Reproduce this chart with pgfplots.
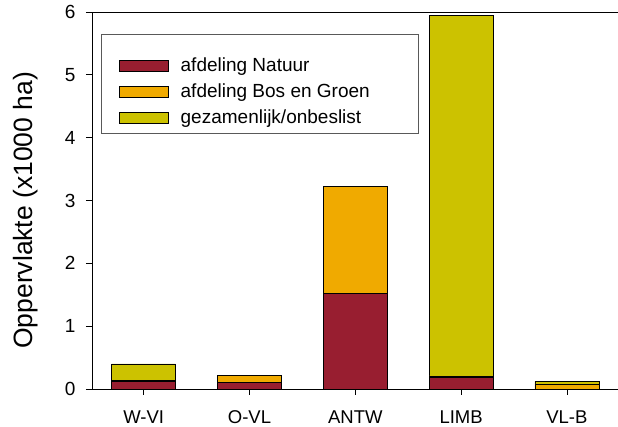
\documentclass[border=0pt]{standalone}
\usepackage{pgfplots}
\pgfplotsset{compat=1.18}
\usepackage{fontspec}
\setmainfont{Liberation Sans}
\definecolor{cNat}{RGB}{152,30,48}
\definecolor{cBos}{RGB}{240,170,0}
\definecolor{cGez}{RGB}{204,194,0}
\begin{document}
\begin{tikzpicture}
\useasboundingbox (-92pt,-38pt) rectangle (526pt,389pt);
\begin{axis}[
  at={(0,0)}, anchor=south west,
  scale only axis, width=526pt, height=377pt,
  ybar stacked, bar width=64pt,
  xmin=-0.489, xmax=4.483, ymin=0, ymax=6,
  xtick={0,1,2,3,4},
  xticklabels={W-VI,O-VL,ANTW,LIMB,VL-B},
  ytick={0,1,2,3,4,5,6},
  axis x line=box, axis y line=left,
  axis line style={-, black, line width=0.8pt},
  xtick pos=bottom, ytick pos=left,
  tick align=outside, major tick length=6pt,
  tick style={black, line width=0.8pt},
  /pgf/number format/assume math mode=true,
  xticklabel style={font=\fontsize{18.5}{21}\selectfont, yshift=-12pt},
  yticklabel style={font=\fontsize{19}{22}\selectfont, xshift=-7pt},
  ylabel={Oppervlakte (x1000 ha)},
  every axis y label/.style={at={(axis description cs:-0.127,0.474)}, rotate=90, anchor=center, font=\fontsize{26.5}{30}\selectfont},
  legend cell align=left,
  legend style={draw=none, fill=none, at={(axis description cs:0.0513,0.877)}, anchor=north west,
    inner sep=0pt, font=\fontsize{19}{22}\selectfont, row sep=9pt,
    nodes={inner sep=0pt, text height=13pt, text depth=4pt}},
  legend image code/.code={\draw[#1, draw=black, line width=0.5pt] (0pt,-4pt) rectangle (49pt,7pt);},
  /tikz/every odd column/.append style={column sep=12pt},
]
\addplot[fill=cNat, draw=black, line width=0.6pt] coordinates {(0,0.12) (1,0.11) (2,1.52) (3,0.18) (4,0)};
\addplot[fill=cBos, draw=black, line width=0.6pt] coordinates {(0,0.02) (1,0.11) (2,1.71) (3,0.03) (4,0.08)};
\addplot[fill=cGez, draw=black, line width=0.6pt] coordinates {(0,0.26) (1,0) (2,0) (3,5.74) (4,0.04)};
\legend{afdeling Natuur, afdeling Bos en Groen, gezamenlijk/onbeslist}
\draw[gray!70!black, line width=0.8pt] (axis description cs:0.0171,0.9416) rectangle (axis description cs:0.6198,0.679);
\end{axis}
\end{tikzpicture}
\end{document}
